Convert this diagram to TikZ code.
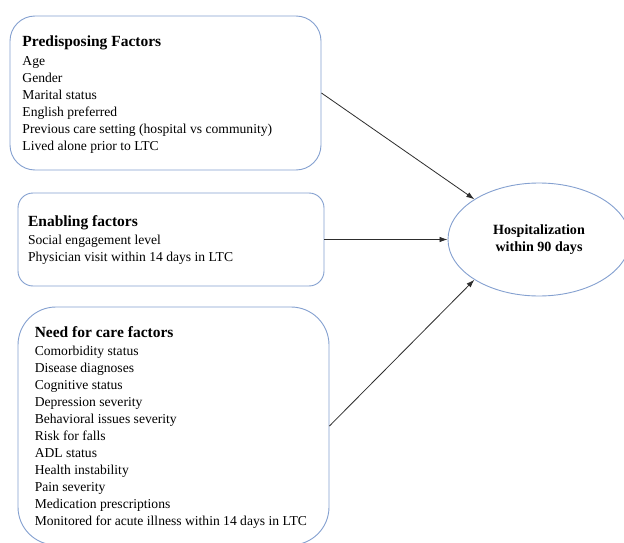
\documentclass[tikz,border=0pt]{standalone}
\usepackage{fontspec}
\setmainfont{Liberation Serif}
\usepackage{tikz}
\usetikzlibrary{shapes.geometric,arrows.meta}

\definecolor{boxblue}{RGB}{132,160,208}
\definecolor{linkgray}{RGB}{45,45,45}

\tikzset{
  factorbox/.style={draw=boxblue, line width=0.9pt, inner sep=0pt},
  factortext/.style={anchor=west, align=left, inner sep=0pt,
    font=\fontsize{13.6}{17}\selectfont},
  link/.style={draw=linkgray, line width=0.8pt,
    -{Latex[length=8pt,width=5.5pt]}}
}
\newcommand{\factortitle}[1]{{\fontsize{15.5}{19}\selectfont\bfseries #1}}

\begin{document}
\begin{tikzpicture}[x=1pt, y=-1pt]

      \clip (0,0) rectangle (624,543);
      \fill[white] (0,0) rectangle (624,543);

      %Predisposing factors
      \node [factorbox, rounded corners=25pt, minimum width=311pt, minimum height=154pt]
            (predisp) at (165.5,93) {};
      \node [factortext] (predisptext) at ([xshift=12.7pt, yshift=-2pt]predisp.west)
            {\factortitle{Predisposing Factors}\\[2pt]
             Age\\
             Gender\\
             Marital status\\
             English preferred\\
             Previous care setting (hospital vs community)\\
             Lived alone prior to LTC};

      %Enabling factors
      \node [factorbox, rounded corners=15pt, minimum width=306pt, minimum height=93pt]
            (enabling) at (171,239.5) {};
      \node [factortext] (enablingtext) at ([xshift=10.3pt, yshift=-1pt]enabling.west)
            {\factortitle{Enabling factors}\\[1pt]
             Social engagement level\\
             Physician visit within 14 days in LTC};

      %Need for care factors
      \node [factorbox, rounded corners=38pt, minimum width=311pt, minimum height=238pt]
            (need) at (173.5,426) {};
      \node [factortext] (needtext) at ([xshift=17pt, yshift=-2pt]need.west)
            {\factortitle{Need for care factors}\\[1pt]
             Comorbidity status\\
             Disease diagnoses\\
             Cognitive status\\
             Depression severity\\
             Behavioral issues severity\\
             Risk for falls\\
             ADL status\\
             Health instability\\
             Pain severity\\
             Medication prescriptions\\
             Monitored for acute illness within 14 days in LTC};

      %Outcome
      \node [draw=boxblue, line width=0.9pt, ellipse, minimum width=182pt,
             minimum height=113pt, inner sep=0pt, align=center,
             font=\fontsize{14.1}{17}\selectfont\bfseries]
            (hosp) at (539,239.5) {Hospitalization\\within 90 days};

      %Links
      \draw [link] (predisp.east) -- (hosp.north west);
      \draw [link] (enabling.east) -- (hosp.west);
      \draw [link] (need.east) -- (hosp.south west);

\end{tikzpicture}
\end{document}
